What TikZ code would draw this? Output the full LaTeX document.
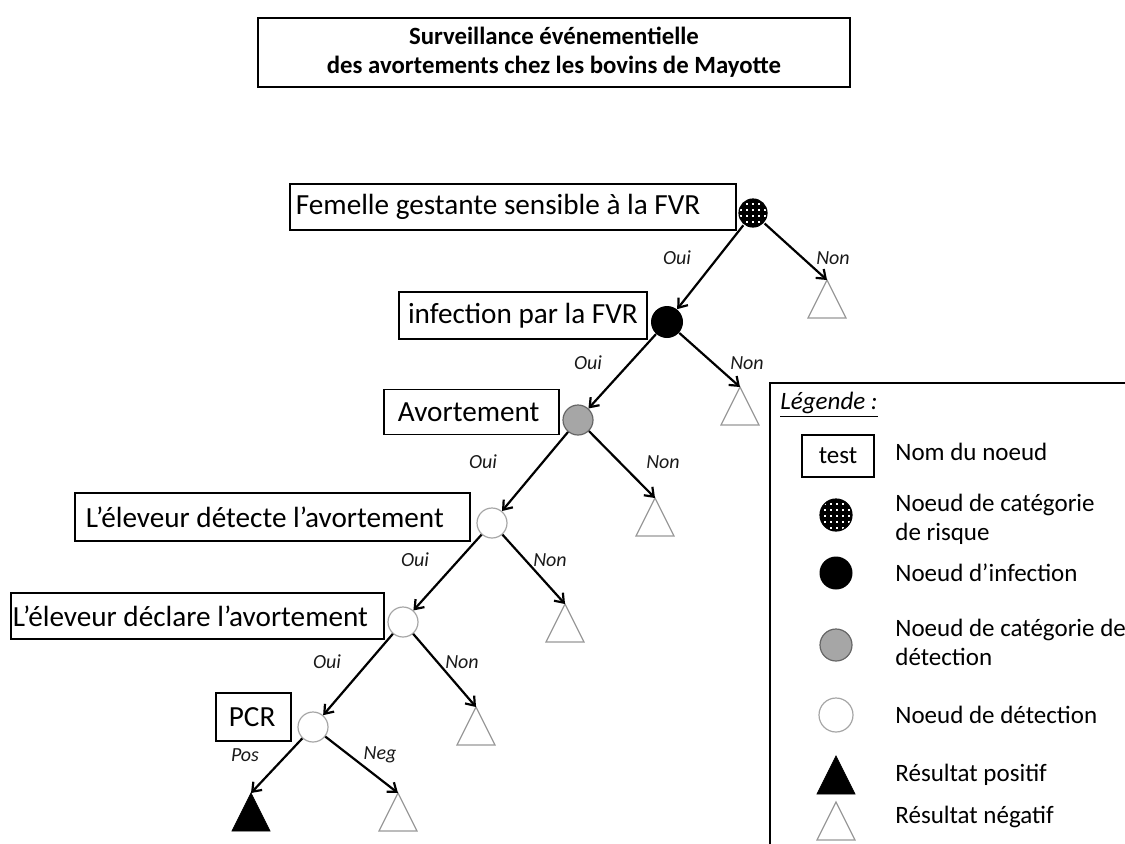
\documentclass[tikz,border=0pt]{standalone}
\usepackage{fontspec}
\setmainfont{Carlito}
\usetikzlibrary{arrows.meta,patterns.meta}

\newcommand{\tri}[2]{\draw[#2] (#1) -- ++(-19,38) -- ++(38,0) -- cycle;}

\begin{document}
\begin{tikzpicture}[x=0.5pt,y=-0.5pt,
  namebox/.style={draw, line width=0.9pt, anchor=west, align=flush left, inner ysep=0pt, font=\fontsize{14.6}{17}\selectfont},
  risknode/.style={circle, draw, line width=0.6pt, inner sep=0pt, minimum size=14pt, pattern={Hatch[angle=0,distance=3pt,line width=1.6pt]}},
  infnode/.style={circle, fill=black, inner sep=0pt, minimum size=16pt},
  catnode/.style={circle, draw=gray!80!black, fill=gray!70, line width=0.6pt, inner sep=0pt, minimum size=15pt},
  detnode/.style={circle, draw=gray!70, fill=white, line width=0.6pt, inner sep=0pt, minimum size=15pt},
  negtri/.style={draw=gray!80, line width=0.6pt, fill=white},
  postri/.style={draw=black, fill=black},
  branch/.style={-{Straight Barb[length=4pt,width=6pt]}, line width=1.1pt},
  lbl/.style={text=black!90, font=\fontsize{10}{12}\selectfont\itshape},
  legtext/.style={anchor=west, align=flush left, inner sep=0pt, font=\fontsize{12.5}{14.5}\selectfont}]
\useasboundingbox (0,0) rectangle (1125,843);
\clip (0,0) rectangle (1125,843);

\node[draw, line width=0.9pt, minimum width=296pt, minimum height=34.5pt, align=center, font=\fontsize{12.4}{14.5}\selectfont\bfseries] (title) at (554,52.5) {Surveillance événementielle\\des avortements chez les bovins de Mayotte};

\node[namebox, inner xsep=3pt, text width=217pt, minimum height=23pt] (b0) at (289,207) {Femelle gestante sensible à la FVR};
\node[namebox, inner xsep=3pt, minimum width=124pt, minimum height=23.5pt] (b1) at (398,315.5) {infection par la FVR};
\node[namebox, inner xsep=7pt, text width=73.5pt, minimum height=22.5pt] (b2) at (383,412) {Avortement};
\node[namebox, inner xsep=5.5pt, text width=186.5pt, minimum height=24pt] (b3) at (74,517) {L’éleveur détecte l’avortement};
\node[namebox, inner xsep=1pt, text width=184.5pt, minimum height=23pt] (b4) at (10,616) {L’éleveur déclare l’avortement};
\node[namebox, inner xsep=6.5pt, text width=24.5pt, minimum height=24pt] (b5) at (215,717) {PCR};

\node[risknode] (n0) at (753,213) {};
\node[infnode] (n1) at (667,322) {};
\node[catnode] (n2) at (578,420) {};
\node[detnode] (n3) at (492,523) {};
\node[detnode] (n4) at (403,622) {};
\node[detnode] (n5) at (313,727) {};

\coordinate (t0) at (827,280);
\coordinate (t1) at (740,387);
\coordinate (t2) at (655,498);
\coordinate (t3) at (565,604);
\coordinate (t4) at (476,707);
\coordinate (t5) at (251,793);
\coordinate (t6) at (398,793);
\tri{t0}{negtri}
\tri{t1}{negtri}
\tri{t2}{negtri}
\tri{t3}{negtri}
\tri{t4}{negtri}
\tri{t5}{postri}
\tri{t6}{negtri}

\draw[branch] (n0) -- (n1);
\draw[branch] (n0) -- (t0);
\draw[branch] (n1) -- (n2);
\draw[branch] (n1) -- (t1);
\draw[branch] (n2) -- (n3);
\draw[branch] (n2) -- (t2);
\draw[branch] (n3) -- (n4);
\draw[branch] (n3) -- (t3);
\draw[branch] (n4) -- (n5);
\draw[branch] (n4) -- (t4);
\draw[branch] (n5) -- (t5);
\draw[branch] (n5) -- (t6);

\node[lbl] (oui0) at (677,258) {Oui};
\node[lbl] (non0) at (833,258) {Non};
\node[lbl] (oui1) at (588,363) {Oui};
\node[lbl] (non1) at (747,363) {Non};
\node[lbl] (oui2) at (483,462) {Oui};
\node[lbl] (non2) at (663,462) {Non};
\node[lbl] (oui3) at (415,560) {Oui};
\node[lbl] (non3) at (550,560) {Non};
\node[lbl] (oui4) at (327,662) {Oui};
\node[lbl] (non4) at (462,662) {Non};
\node[lbl] (pos) at (245,755) {Pos};
\node[lbl] (neg) at (380,755) {Neg};

\draw[line width=0.9pt] (770,383) rectangle (1135,855);
\node[anchor=west, inner sep=0pt, font=\fontsize{12.5}{14.5}\selectfont\itshape] (legtitle) at (780,405) {\underline{Légende :}};
\node[draw, line width=0.9pt, minimum width=36pt, minimum height=21pt, font=\fontsize{12.5}{14.5}\selectfont] (legbox) at (838,456) {test};
\node[risknode, minimum size=16pt] (legrisk) at (836,515) {};
\node[infnode, minimum size=16.5pt] (leginf) at (836,573) {};
\node[catnode, minimum size=16pt] (legcat) at (836,645) {};
\node[detnode, minimum size=17pt] (legdet) at (836,715) {};
\coordinate (legpos) at (836,756);
\coordinate (legneg) at (836,802);
\tri{legpos}{postri}
\tri{legneg}{negtri}
\node[legtext] (lt1) at (895,452) {Nom du noeud};
\node[legtext] (lt2) at (895,519.5) {Noeud de catégorie\\de risque};
\node[legtext] (lt3) at (895,573) {Noeud d’infection};
\node[legtext] (lt4) at (895,642.5) {Noeud de catégorie de\\détection};
\node[legtext] (lt5) at (895,715) {Noeud de détection};
\node[legtext] (lt6) at (895,775) {Résultat positif};
\node[legtext] (lt7) at (895,817) {Résultat négatif};
\end{tikzpicture}
\end{document}
